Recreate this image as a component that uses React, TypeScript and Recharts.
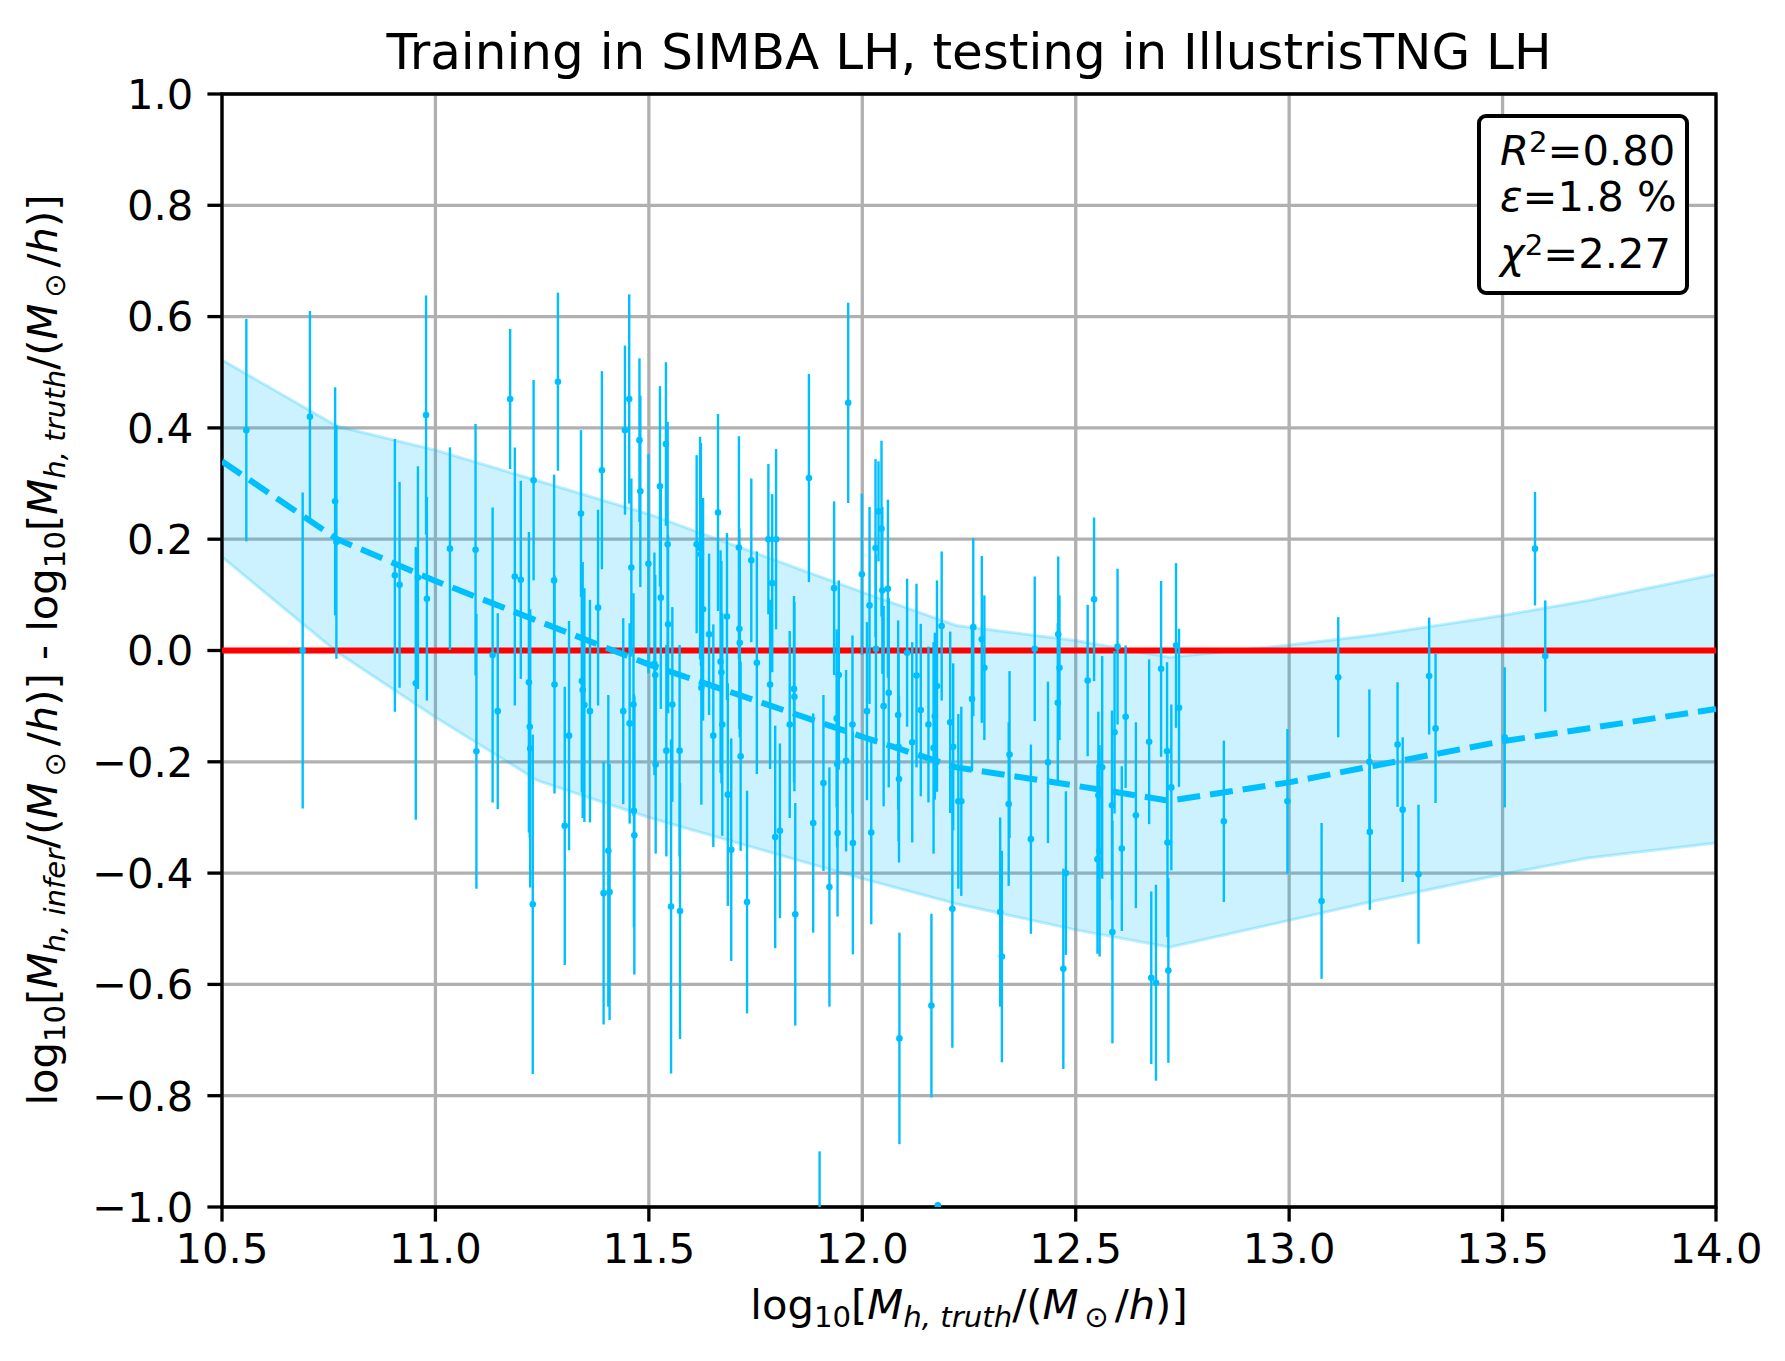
import React from 'react';
import {
  ComposedChart,
  Area,
  Line,
  Scatter,
  ErrorBar,
  XAxis,
  YAxis,
  CartesianGrid,
  ReferenceLine,
  ReferenceArea,
} from 'recharts';

// binned mean and 1-sigma band
const bandX = [10.5, 10.77, 11.0, 11.24, 11.5, 12.0, 12.22, 12.5, 12.72, 13.0, 13.2, 13.5, 13.7, 14.0];
const bandLow = [0.168, -0.003, -0.12, -0.234, -0.3, -0.41, -0.455, -0.502, -0.533, -0.485, -0.45, -0.402, -0.373, -0.346];
const bandHigh = [0.522, 0.403, 0.36, 0.305, 0.245, 0.105, 0.045, 0.018, -0.012, 0.01, 0.028, 0.063, 0.09, 0.137];
const meanVals = [0.34, 0.2, 0.125, 0.053, -0.025, -0.155, -0.21, -0.243, -0.27, -0.237, -0.207, -0.163, -0.14, -0.105];

// individual halos: truth, residual, 1-sigma error
const pointX = [
  10.557, 10.689, 10.706, 10.765, 10.768, 10.905, 10.916, 10.954, 10.959, 10.978, 10.98,
  11.034, 11.094, 11.096, 11.134, 11.146, 11.175, 11.186, 11.2, 11.219, 11.221, 11.222, 11.228, 11.23, 11.278, 11.279,
  11.287, 11.303, 11.313, 11.341, 11.343, 11.345, 11.349, 11.362, 11.381, 11.39, 11.394, 11.405, 11.408, 11.44, 11.444,
  11.454, 11.455, 11.459, 11.464, 11.465, 11.466, 11.478, 11.48, 11.499, 11.513, 11.515, 11.516, 11.526, 11.528,
  11.54, 11.544, 11.541, 11.545, 11.552, 11.555, 11.572, 11.573, 11.612, 11.62, 11.622, 11.623, 11.627, 11.641, 11.651,
  11.662, 11.668, 11.67, 11.672, 11.683, 11.685, 11.693, 11.711, 11.712, 11.713, 11.715, 11.73, 11.74, 11.753, 11.78,
  11.784, 11.789, 11.796, 11.798, 11.807, 11.83, 11.84, 11.841, 11.843, 11.875, 11.885, 11.9, 11.909, 11.923, 11.934,
  11.94, 11.941, 11.942, 11.945, 11.962, 11.967, 11.977, 11.978,
  11.999, 12.011, 12.017, 12.021, 12.031, 12.032, 12.038, 12.045, 12.047, 12.05, 12.06, 12.062, 12.084, 12.085, 12.086,
  12.087, 12.105, 12.117, 12.127, 12.137, 12.155, 12.162, 12.167, 12.17, 12.175, 12.177, 12.186, 12.206, 12.211, 12.213,
  12.225, 12.232, 12.257, 12.26, 12.28, 12.286, 12.323, 12.327, 12.343, 12.345, 12.395, 12.404, 12.435, 12.458, 12.459,
  12.462, 12.471, 12.477, 12.528,
  12.543, 12.551, 12.553, 12.556, 12.562, 12.585, 12.586, 12.591, 12.598, 12.608, 12.617, 12.641, 12.672, 12.677, 12.688,
  12.7, 12.714, 12.715, 12.717, 12.724, 12.735, 12.742, 12.847, 12.996,
  13.076, 13.115, 13.188, 13.189, 13.254, 13.266, 13.303, 13.328, 13.343, 13.505, 13.576, 13.6,
];
const pointY = [
  0.396, 0.0, 0.42, 0.268, 0.195, 0.135, 0.118, -0.059, 0.131, 0.423, 0.093,
  0.183, 0.181, -0.181, -0.008, -0.109, 0.452, 0.133, 0.127, -0.057, -0.137, -0.176, -0.456, 0.306, 0.126, -0.061,
  0.483, -0.315, -0.153, 0.246, -0.055, -0.071, -0.098, -0.109, 0.077, 0.324, -0.436, -0.36, -0.434, -0.109, 0.396,
  0.452, -0.131, 0.149, -0.097, -0.288, -0.332, 0.378, 0.286, 0.156, -0.024, -0.044, -0.205, 0.295, 0.095,
  0.371, 0.191, -0.18, 0.047, -0.46, -0.097, -0.18, -0.468, 0.191, 0.184, 0.173, -0.067, 0.074, 0.029, -0.153,
  0.248, -0.02, -0.039, -0.133, 0.061, -0.259, -0.358, 0.185, 0.039, 0.014, -0.19, -0.452, 0.162, -0.022, 0.2,
  -0.061, 0.121, -0.335, 0.2, -0.324, -0.133, -0.069, -0.083, -0.474, 0.31, -0.31, -1.1, -0.238, -0.425, 0.112,
  -0.122, -0.204, -0.328, -0.044, -0.198, 0.445, -0.133, -0.346,
  0.137, -0.109, 0.081, -0.327, 0.184, 0.003, 0.25, 0.219, 0.108, -0.1, 0.111, -0.076, -0.116, -0.173, -0.231,
  -0.697, -0.004, -0.165, -0.045, -0.107, -0.133, -0.638, -0.175, -0.118, -0.064, -0.997, 0.044, -0.129, -0.464, -0.173,
  -0.271, -0.271, -0.087, 0.042, 0.02, -0.031, -0.47, -0.55, -0.276, -0.187, -0.339, 0.003, -0.201, -0.094, 0.029,
  -0.031, -0.572, -0.4, -0.054,
  0.092, -0.375, -0.26, -0.36, -0.21, -0.278, -0.506, -0.147, 0.007, -0.356, -0.119, -0.296, -0.164, -0.588, -0.597,
  -0.033, -0.181, -0.345, -0.575, -0.246, 0.009, -0.103, -0.307, -0.271,
  -0.45, -0.048, -0.2, -0.326, -0.169, -0.286, -0.402, -0.046, -0.14, -0.156, 0.183, -0.01,
];
const pointErr = [
  0.2, 0.284, 0.19, 0.205, 0.21, 0.245, 0.185, 0.245, 0.2, 0.215, 0.183,
  0.182, 0.226, 0.247, 0.265, 0.176, 0.126, 0.232, 0.178, 0.27, 0.2, 0.25, 0.305, 0.18, 0.19, 0.196,
  0.16, 0.25, 0.206, 0.15, 0.2, 0.23, 0.21, 0.2, 0.176, 0.178, 0.236, 0.28, 0.23, 0.167, 0.152,
  0.188, 0.18, 0.16, 0.2, 0.21, 0.25, 0.147, 0.172, 0.197, 0.2, 0.18, 0.16, 0.18, 0.2,
  0.147, 0.22, 0.19, 0.16, 0.3, 0.175, 0.19, 0.23, 0.16, 0.2, 0.2, 0.21, 0.2, 0.145, 0.2,
  0.177, 0.2, 0.2, 0.2, 0.15, 0.2, 0.2, 0.2, 0.18, 0.17, 0.17, 0.2, 0.147, 0.2, 0.135,
  0.152, 0.16, 0.2, 0.162, 0.157, 0.168, 0.167, 0.17, 0.2, 0.187, 0.197, 0.2, 0.158, 0.215, 0.156,
  0.16, 0.15, 0.15, 0.17, 0.163, 0.18, 0.16, 0.2,
  0.145, 0.16, 0.177, 0.165, 0.16, 0.17, 0.09, 0.158, 0.15, 0.18, 0.16, 0.17, 0.17, 0.17, 0.15,
  0.19, 0.133, 0.18, 0.165, 0.155, 0.14, 0.165, 0.19, 0.15, 0.19, 0.005, 0.134, 0.163, 0.25, 0.15,
  0.157, 0.17, 0.13, 0.16, 0.15, 0.13, 0.17, 0.19, 0.147, 0.15, 0.17, 0.13, 0.145, 0.143, 0.14,
  0.13, 0.18, 0.147, 0.136,
  0.147, 0.17, 0.15, 0.19, 0.2, 0.17, 0.2, 0.146, 0.14, 0.148, 0.128, 0.167, 0.148, 0.155, 0.176,
  0.158, 0.16, 0.17, 0.166, 0.149, 0.148, 0.142, 0.145, 0.13,
  0.14, 0.108, 0.13, 0.14, 0.112, 0.13, 0.125, 0.105, 0.134, 0.126, 0.102, 0.1,
];

const xTicks = [10.5, 11.0, 11.5, 12.0, 12.5, 13.0, 13.5, 14.0];
const yTicks = [-1.0, -0.8, -0.6, -0.4, -0.2, 0.0, 0.2, 0.4, 0.6, 0.8, 1.0];
const Y_MIN = -1;

const curveData = bandX.map((x, i) => ({ x, band: [bandLow[i], bandHigh[i]], mean: meanVals[i] }));
// error bars are cut at the bottom of the axes, like matplotlib's clipping
const points = pointX.map((x, i) => {
  const e = pointErr[i];
  const y = pointY[i];
  return { x, y, err: [Math.min(e, y - Y_MIN), e] };
});

const BLUE = '#00bfff';
const FONT = '"DejaVu Sans", sans-serif';
const fmt = (v: number) => (v < 0 ? '\u2212' + Math.abs(v).toFixed(1) : v.toFixed(1));

const subStyle: React.CSSProperties = { fontSize: '0.7em', verticalAlign: '-0.28em' };
const supStyle: React.CSSProperties = { fontSize: '0.7em', verticalAlign: '0.45em' };

function MassTerm({ sub }: { sub: string }) {
  return (
    <span>
      log<span style={subStyle}>10</span>[<i>M</i>
      <span style={subStyle}><i>h, {sub}</i></span>/(<i>M</i>
      <span style={subStyle}>&#8201;&#8857;&#8201;</span>/<i>h</i>)]
    </span>
  );
}

const Dot = (props: any) => <circle cx={props.cx} cy={props.cy} r={3.3} fill={BLUE} />;

export default function App() {
  const lineStyle: React.CSSProperties = { position: 'absolute', left: 1500, fontSize: 41.7, lineHeight: 1, whiteSpace: 'nowrap' };
  return (
    <div style={{ position: 'relative', width: 1785, height: 1361, background: '#fff', fontFamily: FONT, color: '#000' }}>
      <style>{'body{margin:0}'}</style>
      <ComposedChart width={1785} height={1361} data={curveData} margin={{ top: 94, right: 69, bottom: 0, left: 0 }}>
        <CartesianGrid stroke="#b0b0b0" strokeWidth={3.3} />
        <XAxis
          dataKey="x"
          type="number"
          domain={[10.5, 14]}
          ticks={xTicks}
          allowDataOverflow
          height={154}
          tickFormatter={fmt}
          tickSize={14.6}
          tickMargin={12}
          axisLine={false}
          tickLine={{ stroke: '#000', strokeWidth: 3.3 }}
          tick={{ fontSize: 41.7, fill: '#000', fontFamily: FONT }}
        />
        <YAxis
          dataKey="y"
          type="number"
          domain={[Y_MIN, 1]}
          ticks={yTicks}
          allowDataOverflow
          width={222}
          tickFormatter={fmt}
          tickSize={14.6}
          tickMargin={14}
          axisLine={false}
          tickLine={{ stroke: '#000', strokeWidth: 3.3 }}
          tick={{ fontSize: 41.7, fill: '#000', fontFamily: FONT }}
        />
        <Area
          type="linear"
          dataKey="band"
          fill={BLUE}
          fillOpacity={0.2}
          stroke={BLUE}
          strokeOpacity={0.25}
          strokeWidth={3}
          isAnimationActive={false}
        />
        <ReferenceLine y={0} stroke="#ff0000" strokeWidth={6} />
        <Scatter data={points} dataKey="y" shape={Dot} isAnimationActive={false}>
          <ErrorBar dataKey="err" direction="y" width={0} stroke={BLUE} strokeWidth={2.4} isAnimationActive={false} />
        </Scatter>
        <Line
          type="linear"
          dataKey="mean"
          stroke={BLUE}
          strokeWidth={6}
          strokeDasharray="23 10"
          dot={false}
          activeDot={false}
          isAnimationActive={false}
        />
        <ReferenceArea x1={10.5} x2={14} y1={-1} y2={1} fill="none" stroke="#000" strokeWidth={3.3} />
      </ComposedChart>

      <div style={{ position: 'absolute', left: 969, top: 27, transform: 'translateX(-50%)', fontSize: 50, lineHeight: 1, whiteSpace: 'nowrap' }}>
        Training in SIMBA LH, testing in IllustrisTNG LH
      </div>

      <div style={{ position: 'absolute', left: 969, top: 1284, transform: 'translateX(-50%)', fontSize: 41.7, lineHeight: 1, whiteSpace: 'nowrap' }}>
        <MassTerm sub="truth" />
      </div>

      <div
        style={{
          position: 'absolute',
          left: 46,
          top: 650,
          transform: 'translate(-50%, -50%) rotate(-90deg)',
          fontSize: 41.7,
          lineHeight: 1,
          whiteSpace: 'nowrap',
        }}
      >
        <MassTerm sub="infer" /> - <MassTerm sub="truth" />
      </div>

      <div
        style={{
          position: 'absolute',
          left: 1477,
          top: 114,
          width: 212,
          height: 181,
          boxSizing: 'border-box',
          border: '4px solid #000',
          borderRadius: 9,
          background: '#fff',
        }}
      />
      <div style={{ ...lineStyle, top: 128 }}>
        <i>R</i><span style={supStyle}>2</span>=0.80
      </div>
      <div style={{ ...lineStyle, top: 176 }}>
        <i>ε</i>=1.8 %
      </div>
      <div style={{ ...lineStyle, top: 231 }}>
        <i>χ</i><span style={supStyle}>2</span>=2.27
      </div>
    </div>
  );
}
